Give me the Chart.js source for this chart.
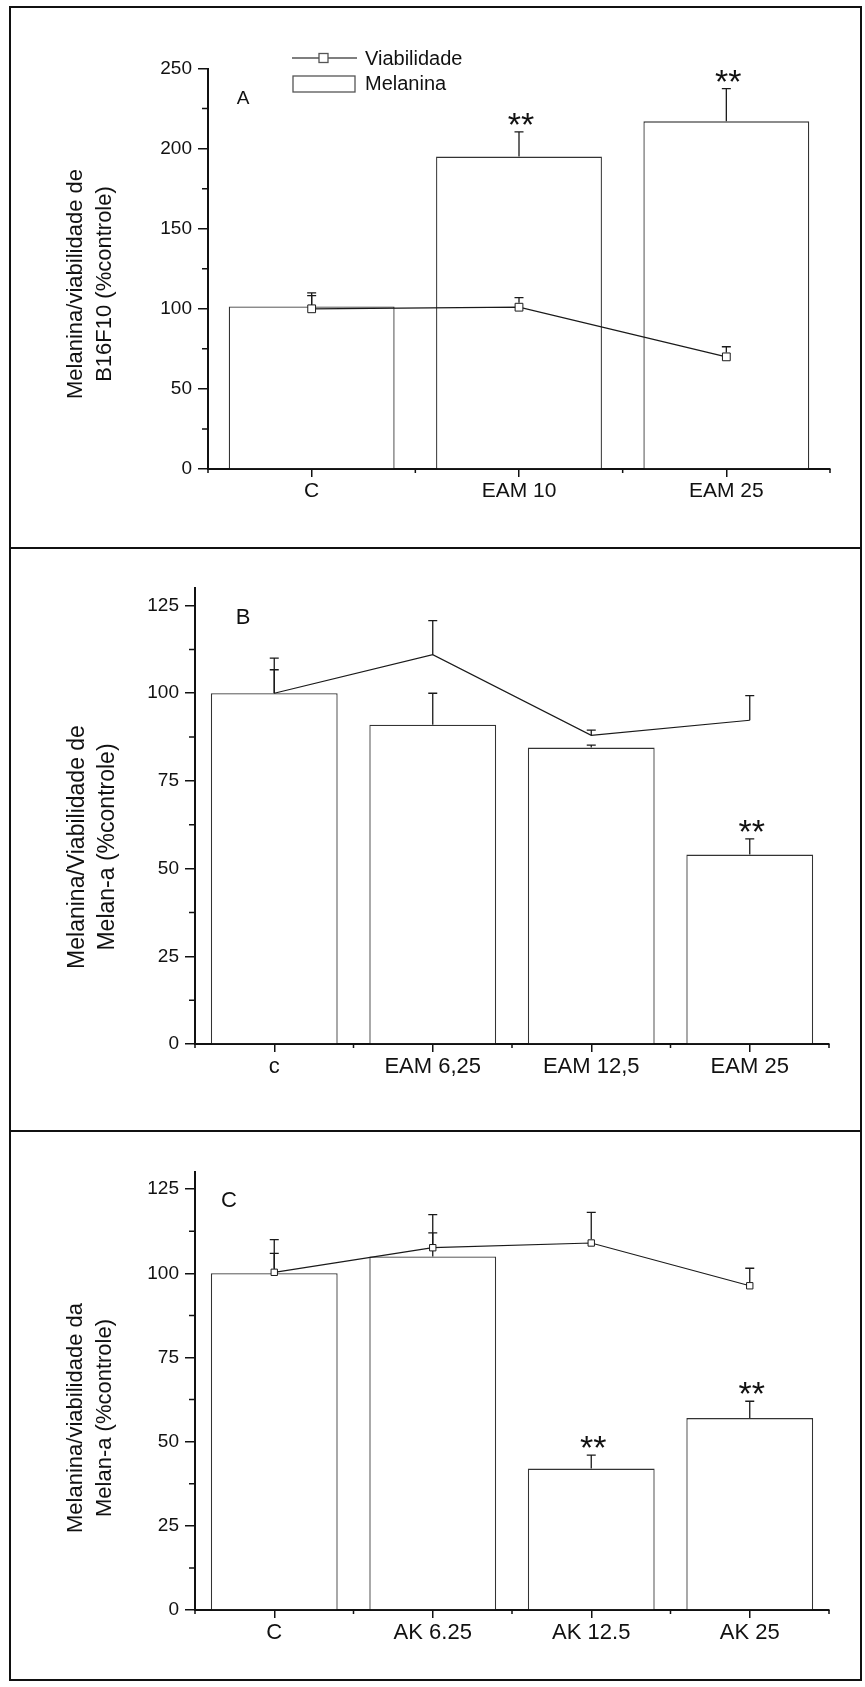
<!DOCTYPE html>
<html lang="pt">
<head>
<meta charset="utf-8">
<title>Melanina / Viabilidade</title>
<script src="https://cdn.jsdelivr.net/npm/chart.js@4.4.1/dist/chart.umd.min.js"></script>
<style>
  html, body { margin: 0; padding: 0; background: #fff; }
  #pagina { position: relative; width: 865px; height: 1687px; overflow: hidden; }
  #pagina canvas { position: absolute; left: 0; }
  .moldura { position: absolute; left: 9px; width: 853px; border: 2px solid #111; box-sizing: border-box; }
</style>
</head>
<body>
<div id="pagina">
  <div class="moldura" style="top:6px;height:543px"></div>
  <div class="moldura" style="top:547px;height:585px"></div>
  <div class="moldura" style="top:1130px;height:551px"></div>
  <canvas id="graficoA" width="865" height="547" style="top:0"></canvas>
  <canvas id="graficoB" width="865" height="583" style="top:547px"></canvas>
  <canvas id="graficoC" width="865" height="557" style="top:1130px"></canvas>
</div>
<script>
// ── Dados ─────────────────────────────────────────────────────────────

// Painel A — B16F10
const categoriasA      = ['C', 'EAM 10', 'EAM 25'];
const melaninaA        = [101.5, 195, 217];
const erroMelaninaA    = [8.5, 15.5, 20.5];
const viabilidadeA     = [100, 101, 70];
const erroViabilidadeA = [8.2, 6, 6.3];
const signifA          = ['', '**', '**'];
const ticksA           = [0, 50, 100, 150, 200, 250];

// Painel B — Melan-a, EAM
const categoriasB      = ['c', 'EAM 6,25', 'EAM 12,5', 'EAM 25'];
const melaninaB        = [100, 91, 84.5, 54];
const erroMelaninaB    = [10, 9, 0.7, 4.5];
const viabilidadeB     = [100, 111, 88, 92.3];
const erroViabilidadeB = [6.7, 9.7, 1.5, 7];
const signifB          = ['', '', '', '**'];
const ticksB           = [0, 25, 50, 75, 100, 125];

// Painel C — Melan-a, AK
const categoriasC      = ['C', 'AK 6.25', 'AK 12.5', 'AK 25'];
const melaninaC        = [100, 105, 42, 57];
const erroMelaninaC    = [10, 7, 4, 5];
const viabilidadeC     = [100.3, 107.6, 109, 96.3];
const erroViabilidadeC = [5.6, 9.8, 9.1, 5.2];
const signifC          = ['', '', '**', '**'];
const ticksC           = [0, 25, 50, 75, 100, 125];

// ── Estilo ────────────────────────────────────────────────────────────

const FONTE      = "'Liberation Sans', Arial, sans-serif";
const COR_TEXTO  = '#111';
const COR_EIXO   = '#111';
const COR_BARRA  = '#333';
const COR_LINHA  = '#1a1a1a';

Chart.defaults.font.family = FONTE;
Chart.defaults.color = COR_TEXTO;

// Desenha as barras de erro (só para cima) dos datasets do tipo pedido
function desenharErros(chart, tipo) {
    const { ctx, scales: { y } } = chart;
    ctx.save();
    ctx.strokeStyle = COR_LINHA;
    ctx.lineWidth = 1.3;
    chart.data.datasets.forEach((ds, i) => {
        if (ds.type !== tipo) return;
        const meta = chart.getDatasetMeta(i);
        // a linha começa na borda do marcador, para não riscá-lo
        const recuo = ds.pointRadius ? ds.pointRadius * Math.SQRT1_2 + 0.5 : 0;
        (ds.erros ?? []).forEach((e, j) => {
            if (!e) return;
            const px = meta.data[j].x;
            const y0 = y.getPixelForValue(ds.data[j]) - recuo;
            const y1 = y.getPixelForValue(ds.data[j] + e);
            ctx.beginPath();
            ctx.moveTo(px, y0);
            ctx.lineTo(px, y1);
            ctx.moveTo(px - 4.5, y1);
            ctx.lineTo(px + 4.5, y1);
            ctx.stroke();
        });
    });
    ctx.restore();
}

// Barras de erro, marcas menores, asteriscos, letra, título do eixo y e legenda
const pluginPainel = {
    id: 'painel',
    beforeDatasetsDraw(chart) {
        desenharErros(chart, 'bar');
    },
    afterDatasetsDraw(chart) {
        desenharErros(chart, 'line');
    },
    afterDraw(chart, args, opts) {
        const { ctx, chartArea, scales: { y } } = chart;
        ctx.save();

        // marcas menores do eixo y (entre as principais)
        ctx.strokeStyle = COR_EIXO;
        ctx.lineWidth = 1.5;
        const principais = opts.ticks;
        ctx.beginPath();
        for (let i = 0; i < principais.length - 1; i++) {
            const py = y.getPixelForValue((principais[i] + principais[i + 1]) / 2);
            ctx.moveTo(chartArea.left - 6, py);
            ctx.lineTo(chartArea.left, py);
        }
        // marcas menores do eixo x (limites das categorias)
        const n = chart.data.labels.length;
        const passo = (chartArea.right - chartArea.left) / n;
        for (let i = 0; i <= n; i++) {
            const px = chartArea.left + i * passo;
            ctx.moveTo(px, chartArea.bottom);
            ctx.lineTo(px, chartArea.bottom + 4);
        }
        ctx.stroke();

        // asteriscos de significância
        const barras = chart.data.datasets.find(d => d.type === 'bar');
        const metaBarras = chart.getDatasetMeta(chart.data.datasets.indexOf(barras));
        ctx.fillStyle = COR_TEXTO;
        ctx.font = `34px ${FONTE}`;
        ctx.textAlign = 'center';
        ctx.textBaseline = 'alphabetic';
        opts.signif.forEach((s, j) => {
            if (!s) return;
            const topo = y.getPixelForValue(barras.data[j] + barras.erros[j]);
            ctx.fillText(s, metaBarras.data[j].x + 2, topo + 4);
        });

        // letra do painel
        ctx.font = `${opts.letra.tamanho}px ${FONTE}`;
        ctx.textBaseline = 'middle';
        ctx.fillText(opts.letra.texto, chartArea.left + opts.letra.dx, chartArea.top + opts.letra.dy);

        // título do eixo y (duas linhas, girado)
        ctx.font = `${opts.tituloY.tamanho}px ${FONTE}`;
        opts.tituloY.linhas.forEach((t, i) => {
            ctx.save();
            ctx.translate(opts.tituloY.xs[i], opts.tituloY.cy);
            ctx.rotate(-Math.PI / 2);
            ctx.fillText(t, 0, 0);
            ctx.restore();
        });

        // legenda (só no painel A)
        if (opts.legenda) {
            const lx = opts.legenda.x, ly = opts.legenda.y;
            ctx.strokeStyle = '#555';
            ctx.lineWidth = 1.3;
            ctx.beginPath();
            ctx.moveTo(lx, ly);
            ctx.lineTo(lx + 65, ly);
            ctx.stroke();
            ctx.fillStyle = '#fff';
            ctx.fillRect(lx + 27, ly - 4.5, 9, 9);
            ctx.strokeRect(lx + 27, ly - 4.5, 9, 9);
            ctx.strokeRect(lx + 1, ly + 18, 62, 16);
            ctx.fillStyle = COR_TEXTO;
            ctx.font = `20px ${FONTE}`;
            ctx.textAlign = 'left';
            ctx.fillText('Viabilidade', lx + 73, ly + 1);
            ctx.fillText('Melanina', lx + 73, ly + 26);
        }
        ctx.restore();
    }
};

function criarPainel(idCanvas, p) {
    const ctx = document.getElementById(idCanvas);
    if (!ctx) return;

    new Chart(ctx, {
        type: 'bar',
        data: {
            labels: p.categorias,
            datasets: [
                {
                    type: 'line',
                    label: 'Viabilidade',
                    data: p.viabilidade,
                    erros: p.erroViabilidade,
                    order: 1,
                    borderColor: COR_LINHA,
                    borderWidth: 1.2,
                    tension: 0,
                    pointStyle: 'rect',
                    pointRadius: p.marcador,
                    pointBackgroundColor: '#fff',
                    pointBorderColor: COR_LINHA,
                    pointBorderWidth: 1,
                },
                {
                    type: 'bar',
                    label: 'Melanina',
                    data: p.melanina,
                    erros: p.erroMelanina,
                    order: 2,
                    backgroundColor: '#fff',
                    borderColor: COR_BARRA,
                    borderWidth: 1.3,
                    barPercentage: 0.8,
                    categoryPercentage: 1,
                },
            ]
        },
        options: {
            responsive: false,
            animation: false,
            devicePixelRatio: 1,
            events: [],
            layout: { padding: p.padding },
            plugins: {
                legend: { display: false },
                tooltip: { enabled: false },
                painel: p.extras,
            },
            scales: {
                x: {
                    offset: true,
                    grid: { offset: false, drawOnChartArea: false, tickLength: 8, color: COR_EIXO, lineWidth: 1.5 },
                    border: { color: COR_EIXO, width: 2 },
                    ticks: { font: { size: p.tamanhoX }, color: COR_TEXTO, padding: 2, maxRotation: 0, autoSkip: false },
                    afterFit: s => { s.height = 40; },
                },
                y: {
                    min: 0,
                    max: p.max,
                    afterBuildTicks: s => { s.ticks = p.ticks.map(v => ({ value: v })); },
                    grid: { drawOnChartArea: false, tickLength: 10, color: COR_EIXO, lineWidth: 1.5 },
                    border: { color: COR_EIXO, width: 2 },
                    ticks: { font: { size: 19 }, color: COR_TEXTO, padding: 6 },
                    afterFit: s => { s.width = 60; },
                }
            }
        },
        plugins: [pluginPainel]
    });
}

document.addEventListener('DOMContentLoaded', () => {
    criarPainel('graficoA', {
        categorias: categoriasA, melanina: melaninaA, erroMelanina: erroMelaninaA,
        viabilidade: viabilidadeA, erroViabilidade: erroViabilidadeA,
        ticks: ticksA, max: 250, marcador: 5.5, tamanhoX: 21,
        padding: { left: 148, right: 35, top: 68.5, bottom: 38 },
        extras: {
            ticks: ticksA, signif: signifA,
            letra: { texto: 'A', tamanho: 19, dx: 35, dy: 30 },
            tituloY: { linhas: ['Melanina/viabilidade de', 'B16F10 (%controle)'], xs: [76, 105], cy: 284, tamanho: 22 },
            legenda: { x: 292, y: 58 },
        }
    });

    criarPainel('graficoB', {
        categorias: categoriasB, melanina: melaninaB, erroMelanina: erroMelaninaB,
        viabilidade: viabilidadeB, erroViabilidade: erroViabilidadeB,
        ticks: ticksB, max: 130, marcador: 0, tamanhoX: 22,
        padding: { left: 135, right: 36, top: 41, bottom: 46 },
        extras: {
            ticks: ticksB, signif: signifB,
            letra: { texto: 'B', tamanho: 22, dx: 48, dy: 30 },
            tituloY: { linhas: ['Melanina/Viabilidade de', 'Melan-a (%controle)'], xs: [78, 107.5], cy: 300, tamanho: 23 },
        }
    });

    criarPainel('graficoC', {
        categorias: categoriasC, melanina: melaninaC, erroMelanina: erroMelaninaC,
        viabilidade: viabilidadeC, erroViabilidade: erroViabilidadeC,
        ticks: ticksC, max: 130, marcador: 4.5, tamanhoX: 22,
        padding: { left: 135, right: 36, top: 42.3, bottom: 37 },
        extras: {
            ticks: ticksC, signif: signifC,
            letra: { texto: 'C', tamanho: 22, dx: 34, dy: 29 },
            tituloY: { linhas: ['Melanina/viabilidade da', 'Melan-a (%controle)'], xs: [76, 105], cy: 288, tamanho: 22 },
        }
    });
});
</script>
</body>
</html>
